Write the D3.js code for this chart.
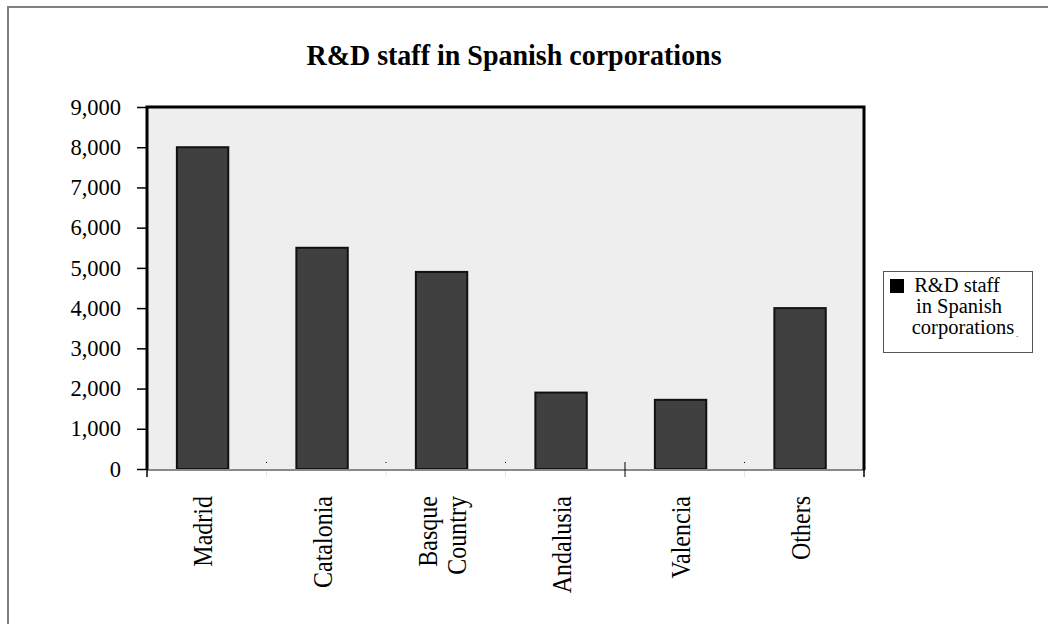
<!DOCTYPE html>
<html>
<head>
<meta charset="utf-8">
<script src="https://cdn.jsdelivr.net/npm/d3@7"></script>
<style>
  html, body { margin: 0; padding: 0; background: #fff; }
  svg { display: block; }
  text, tspan { font-family: "Liberation Serif", "Times New Roman", serif; fill: #000; }
</style>
</head>
<body>
<svg id="chart" width="1048" height="624"></svg>
<script>
// R&D staff by region
const categories = ["Madrid", "Catalonia", "Basque Country", "Andalusia", "Valencia", "Others"];
const staff = [8000, 5500, 4900, 1900, 1720, 4000];
const yTicks = [0, 1000, 2000, 3000, 4000, 5000, 6000, 7000, 8000, 9000];
const titleText = "R&D staff in Spanish corporations";
const legendLines = ["R&D staff", "in Spanish", "corporations"];

const SERIF = "'Liberation Serif', 'Times New Roman', serif";
const svg = d3.select("#chart");

// frame lines (top and left edges)
svg.append("line").attr("x1", 8).attr("x2", 1048).attr("y1", 7).attr("y2", 7)
  .attr("stroke", "#808080").attr("stroke-width", 2);
svg.append("line").attr("x1", 8).attr("x2", 8).attr("y1", 6).attr("y2", 624)
  .attr("stroke", "#808080").attr("stroke-width", 2);

// title
svg.append("text")
  .attr("transform", "translate(514,65) scale(1,1.08)")
  .attr("text-anchor", "middle")
  .style("font-family", SERIF)
  .style("font-size", "28px").attr("font-weight", "bold")
  .text(titleText);

const plot = { left: 147, right: 864, top: 107, bottom: 470 };

const x = d3.scaleBand().domain(categories).range([plot.left, plot.right]);
const y = d3.scaleLinear().domain([0, 9000]).range([plot.bottom - 1, plot.top]);

// plot background
svg.append("rect")
  .attr("x", plot.left).attr("y", plot.top)
  .attr("width", plot.right - plot.left).attr("height", plot.bottom - plot.top)
  .attr("fill", "#eeeeee");

// bars
const barOffset = x.bandwidth() * 0.25;
const barWidth = x.bandwidth() * 0.43;
svg.append("g").selectAll("rect")
  .data(categories)
  .join("rect")
  .attr("x", (d) => x(d) + barOffset)
  .attr("y", (d, i) => y(staff[i]))
  .attr("width", barWidth)
  .attr("height", (d, i) => y(0) - y(staff[i]))
  .attr("fill", "#404040")
  .attr("stroke", "#111")
  .attr("stroke-width", 2);

// bottom axis line
svg.append("line")
  .attr("x1", plot.left).attr("x2", plot.right + 1)
  .attr("y1", plot.bottom).attr("y2", plot.bottom)
  .attr("stroke", "#8a8a8a").attr("stroke-width", 2);

// plot frame: top, left, right
svg.append("path")
  .attr("d", `M${plot.left},${plot.bottom} V${plot.top} H${plot.right} V${plot.bottom}`)
  .attr("fill", "none").attr("stroke", "#000").attr("stroke-width", 3);

// y axis
const yAxis = d3.axisLeft(y)
  .tickValues(yTicks)
  .tickSize(10)
  .tickPadding(16)
  .tickFormat(d3.format(","));
const gy = svg.append("g").attr("transform", `translate(${plot.left},0)`).call(yAxis);
gy.attr("font-family", null).attr("font-size", null);
gy.select(".domain").remove();
gy.selectAll(".tick line").attr("stroke", "#000").attr("stroke-width", 1.5);
gy.selectAll(".tick text")
  .style("font-family", SERIF)
  .style("font-size", "22.5px")
  .attr("fill", "#000");

// x boundary ticks
const bounds = categories.map((c) => x(c)).concat([plot.right]);
const gx = svg.append("g");
bounds.forEach((bx, i) => {
  if (i === 0 || i === bounds.length - 1) {
    gx.append("line").attr("x1", bx).attr("x2", bx).attr("y1", plot.bottom - 1).attr("y2", plot.bottom + 7)
      .attr("stroke", "#000").attr("stroke-width", 1.5);
  } else if (i === 4) {
    gx.append("line").attr("x1", bx).attr("x2", bx).attr("y1", plot.bottom - 8).attr("y2", plot.bottom + 7)
      .attr("stroke", "#000").attr("stroke-width", 1);
  } else {
    gx.append("rect").attr("x", bx - 0.5).attr("y", plot.bottom - 8).attr("width", 1).attr("height", 1)
      .attr("fill", "#000");
    gx.append("line").attr("x1", bx).attr("x2", bx).attr("y1", plot.bottom + 1).attr("y2", plot.bottom + 7)
      .attr("stroke", "#e4e4e4").attr("stroke-width", 1);
  }
});

// category labels, rotated
const labelTop = 496;
categories.forEach((c) => {
  const cx = x(c) + barOffset + barWidth / 2;
  const words = c.split(" ");
  const lineGap = 25;
  const t = svg.append("text")
    .style("font-family", SERIF)
    .style("font-size", "24px")
    .attr("text-anchor", "end")
    .attr("transform", `translate(${cx},${labelTop}) rotate(-90) scale(1,1.15)`);
  words.forEach((w, k) => {
    const off = (k - (words.length - 1) / 2) * lineGap;
    t.append("tspan").style("font-family", SERIF)
      .attr("x", 0).attr("y", off).attr("dy", "0.35em").text(w);
  });
});

// legend
const lg = svg.append("g");
lg.append("rect").attr("x", 883.5).attr("y", 271.5).attr("width", 149).attr("height", 81)
  .attr("fill", "#fff").attr("stroke", "#555").attr("stroke-width", 1);
lg.append("rect").attr("x", 890).attr("y", 279).attr("width", 14).attr("height", 14).attr("fill", "#000");
const lt = lg.append("text").style("font-family", SERIF).style("font-size", "20.5px").attr("text-anchor", "middle");
legendLines.forEach((l, k) => {
  lt.append("tspan").style("font-family", SERIF)
    .attr("x", [957, 959, 963][k]).attr("y", 292 + k * 21).text(l);
});
lg.append("text").style("font-family", SERIF).attr("x", 1016).attr("y", 337).style("font-size", "9px").text(".");
</script>
</body>
</html>
